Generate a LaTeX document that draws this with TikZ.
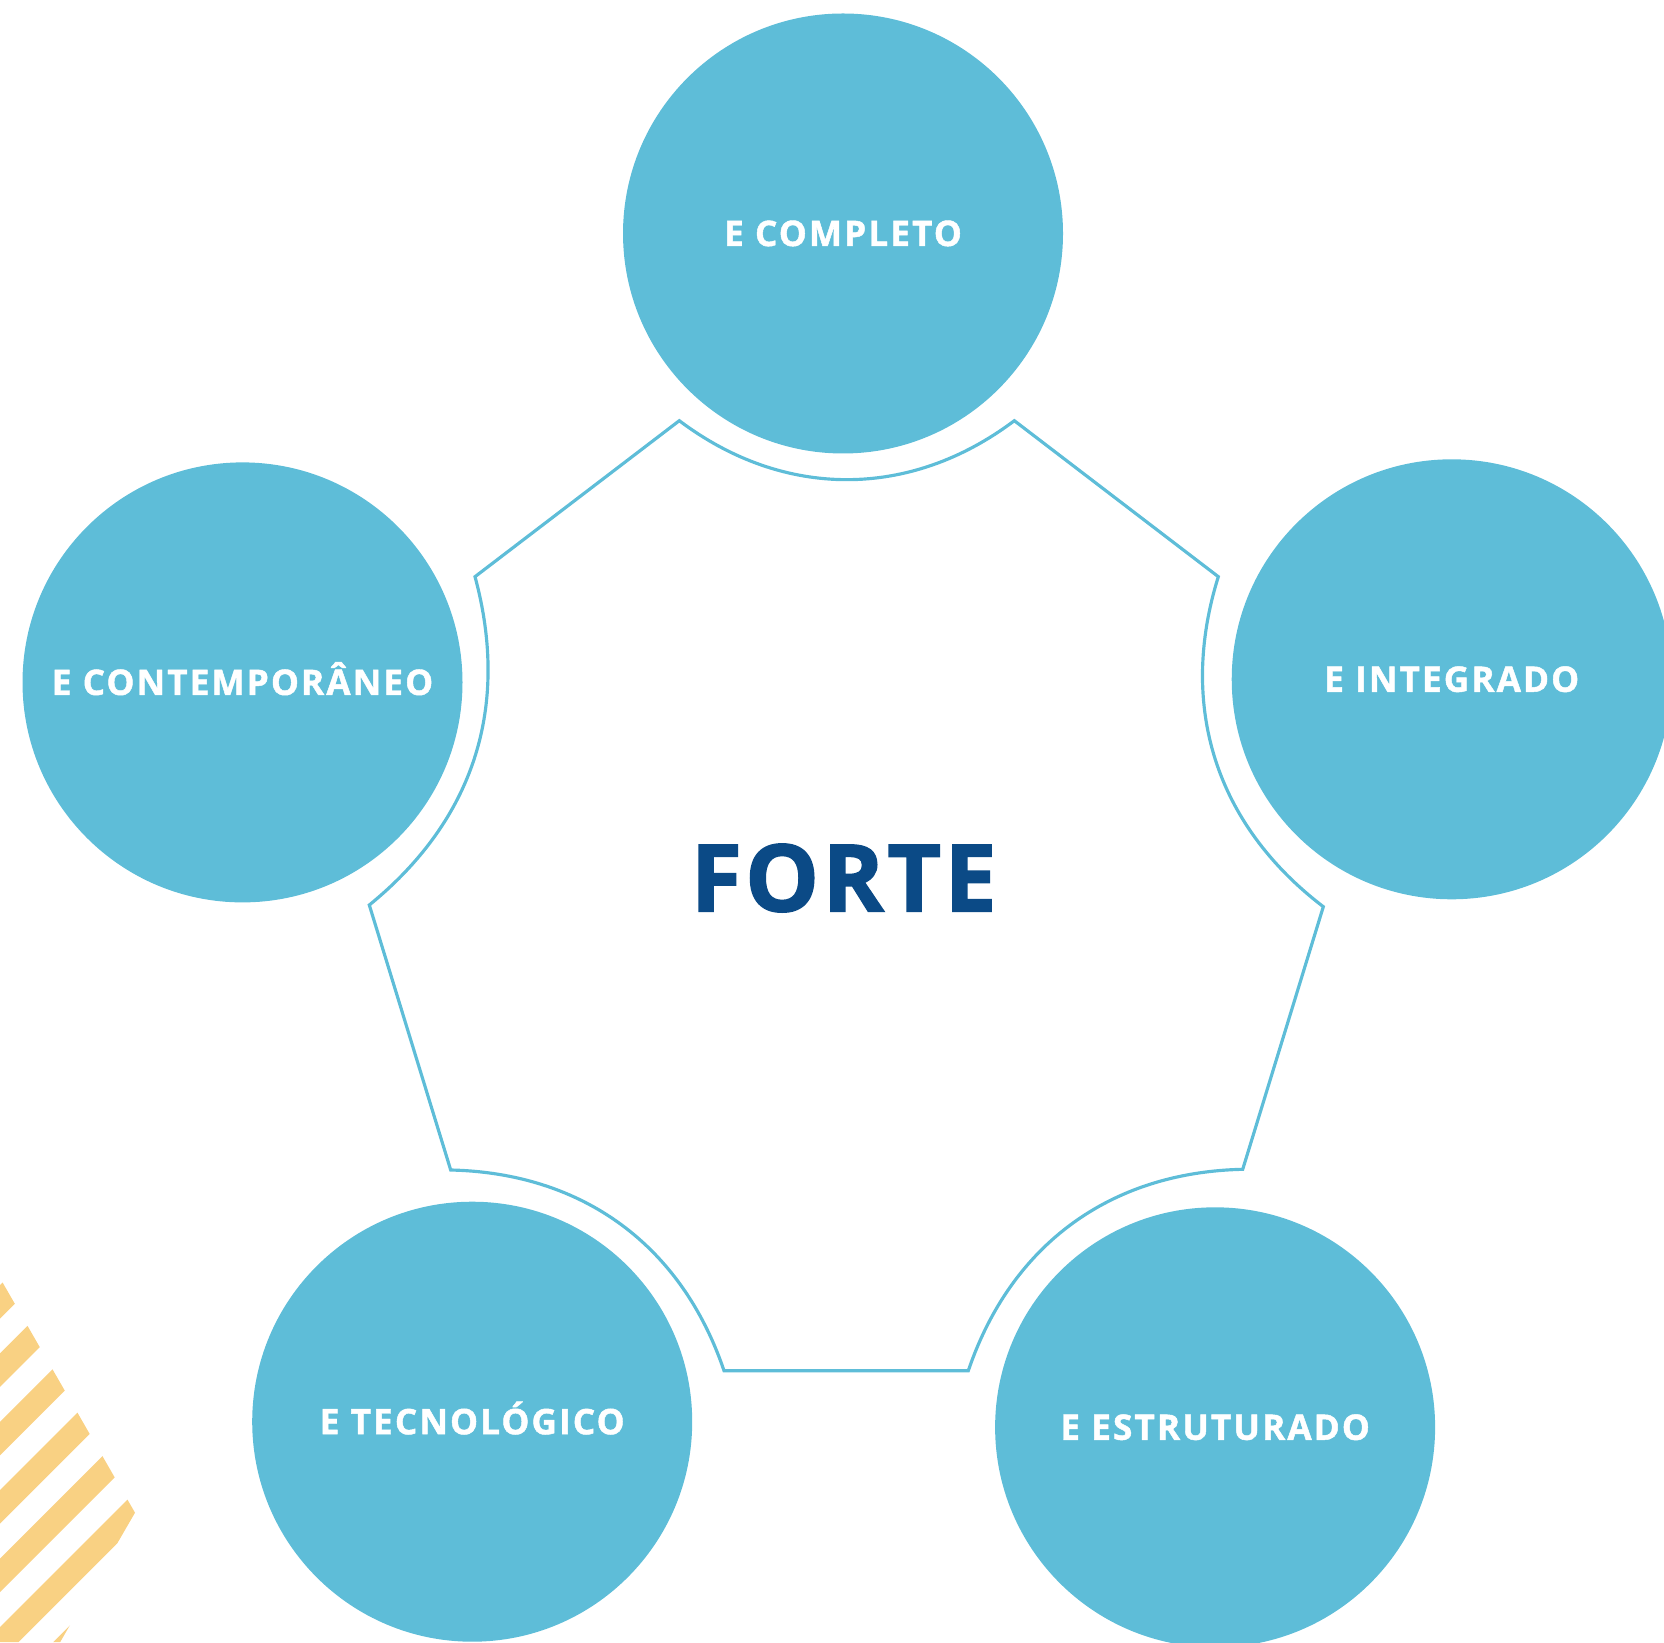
\documentclass[tikz,border=0pt]{standalone}
\usepackage{fontspec}
\setmainfont{Open Sans}
\newfontfamily\rotulofont[LetterSpace=6,BoldFeatures={FakeBold=1.3}]{Open Sans}
\newfontfamily\titulofont[LetterSpace=3.5,BoldFeatures={FakeBold=1.6}]{Open Sans}
\newcommand{\rotulo}{\rotulofont\bfseries\fontsize{10pt}{12pt}\selectfont}
\newcommand{\titulo}{\titulofont\bfseries\fontsize{26.5pt}{30pt}\selectfont}

\definecolor{ciano}{HTML}{5EBDD8}
\definecolor{azul}{HTML}{0B4A86}
\definecolor{amarelo}{HTML}{F9D183}

\tikzset{
  bola/.style={circle, fill=ciano, minimum size=4.4cm, inner sep=0pt,
    text=white, font=\rotulo, text height=0.25cm, text depth=0pt},
  contorno/.style={draw=ciano, line width=0.9pt},
  curva/.style={bend right=35}
}

\begin{document}
\begin{tikzpicture}
  \useasboundingbox (0,0) rectangle (16.64,16.42);

  % faixas amarelas
  \begin{scope}
    \clip (0,3.64) -- (1.35,1.293) -- (0.602,0) -- (0,0) -- cycle;
    \foreach \i in {0,...,6} {
      \pgfmathsetmacro{\k}{-3.57+0.684*\i}
      \fill[amarelo] (\k-1,-1) -- (\k+5,5) -- (\k+5.335,5) -- (\k-0.665,-1) -- cycle;
    }
  \end{scope}

  \node[bola] (completo) at (8.43,14.085) {E COMPLETO};
  \node[bola] (integrado) at (14.517,9.627) {E INTEGRADO};
  \node[bola] (estruturado) at (12.151,2.147) {E ESTRUTURADO};
  \node[bola] (tecnologico) at (4.722,2.203) {E TECNOLÓGICO};
  \node[bola] (contemp) at (2.425,9.596) {E CONTEMPORÂNEO};
  \node[text=azul, font=\titulo, text height=0.667cm, text depth=0pt, inner sep=0pt]
    (forte) at (8.437,7.64) {FORTE};

  \coordinate (a) at (6.793,12.213);
  \coordinate (b) at (10.143,12.213);
  \coordinate (c) at (12.183,10.653);
  \coordinate (d) at (13.233,7.353);
  \coordinate (e) at (12.427,4.727);
  \coordinate (f) at (9.683,2.713);
  \coordinate (g) at (7.24,2.713);
  \coordinate (h) at (4.507,4.72);
  \coordinate (i) at (3.693,7.37);
  \coordinate (j) at (4.75,10.653);

  \draw[contorno] (a) to[curva, bend right=37] (b) -- (c) to[curva] (d) -- (e) to[curva] (f)
    -- (g) to[curva] (h) -- (i) to[curva, bend right=33] (j) -- cycle;
\end{tikzpicture}
\end{document}
